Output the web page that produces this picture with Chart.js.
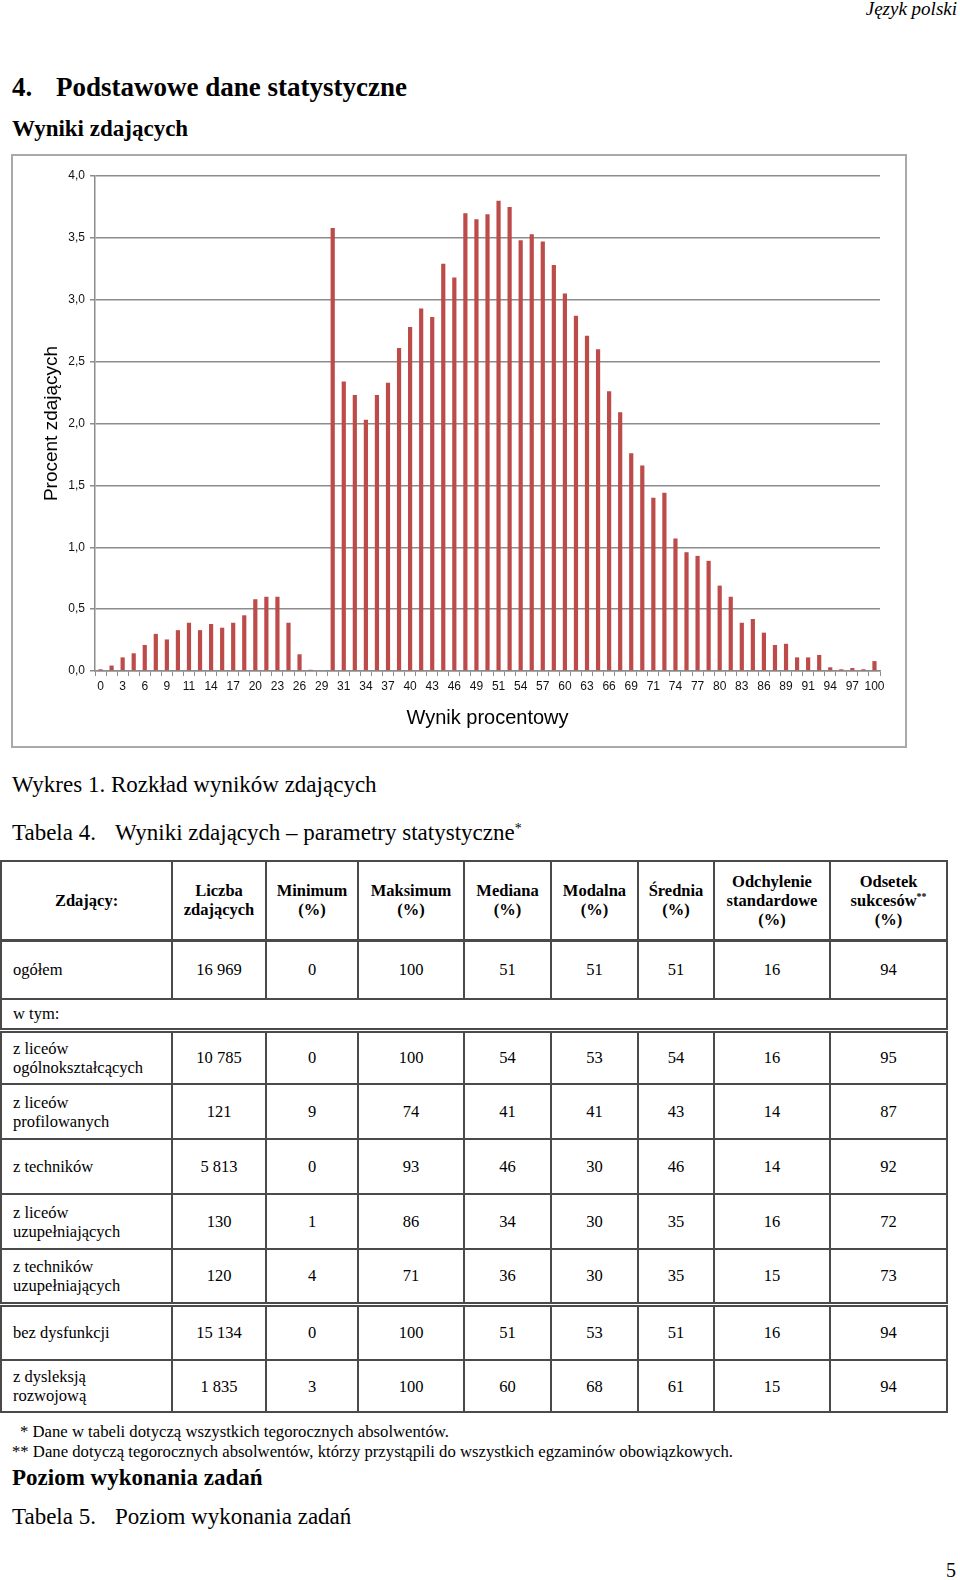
<!DOCTYPE html>
<html lang="pl">
<head>
<meta charset="utf-8">
<title>Wyniki zdających</title>
<script src="https://cdn.jsdelivr.net/npm/chart.js@4.4.0/dist/chart.umd.min.js"></script>
<style>
  html, body { margin: 0; padding: 0; background: #fff; }
  body { width: 960px; height: 1580px; position: relative; overflow: hidden;
         font-family: 'Liberation Serif', 'Times New Roman', serif; color: #000; }
  .abs { position: absolute; white-space: nowrap; }
  .naglowek { font-size: 19px; line-height: 20px; font-style: italic; right: 3px; top: -1px; }
  .h1 { left: 12px; top: 72px; font-size: 27px; line-height: 31px; font-weight: bold; }
  .h1 .nr { display: inline-block; width: 44px; }
  .h2 { left: 12px; font-size: 23px; line-height: 26px; font-weight: bold; }
  .podpis { left: 12px; font-size: 23px; line-height: 26px; }
  .podpis .nr { display: inline-block; width: 103px; }
  .przypis { font-size: 16.7px; line-height: 19px; }
  sup { font-size: 60%; vertical-align: top; position: relative; top: -4px; }
  #ramka { position: absolute; left: 11px; top: 154px; width: 896px; height: 594px;
           border: 2px solid #a9a9a9; box-sizing: border-box; }
  #wykres { position: absolute; left: 0; top: 0; }
  table { position: absolute; left: 0; top: 860px; width: 946px; border-collapse: collapse;
          table-layout: fixed; font-size: 16.5px; }
  td, th { border: 2px solid #4a4a4a; text-align: center; padding: 0; line-height: 19px; }
  th { font-weight: bold; }
  td.nazwa { text-align: left; padding-left: 11px; }
  tr.podwojna td { border-bottom: 5px double #4a4a4a; }
  tr.gruba th { border-bottom: 3px solid #4a4a4a; }
</style>
</head>
<body>
<div class="abs naglowek">Język polski</div>
<div class="abs h1"><span class="nr">4.</span>Podstawowe dane statystyczne</div>
<div class="abs h2" style="top:116px">Wyniki zdających</div>

<div id="ramka"><canvas id="wykres" width="892" height="590"></canvas></div>

<div class="abs podpis" style="top:772px">Wykres 1. Rozkład wyników zdających</div>
<div class="abs podpis" style="top:820px"><span class="nr">Tabela 4.</span>Wyniki zdających – parametry statystyczne<sup>*</sup></div>

<table id="tabela"></table>

<div class="abs przypis" style="left:20px; top:1422px">* Dane w tabeli dotyczą wszystkich tegorocznych absolwentów.</div>
<div class="abs przypis" style="left:12px; top:1442px">** Dane dotyczą tegorocznych absolwentów, którzy przystąpili do wszystkich egzaminów obowiązkowych.</div>
<div class="abs h2" style="top:1465px">Poziom wykonania zadań</div>
<div class="abs podpis" style="top:1504px"><span class="nr">Tabela 5.</span>Poziom wykonania zadań</div>
<div class="abs" style="left:946px; top:1558px; font-size:20px; line-height:24px">5</div>

<script>
// procent zdających dla kolejnych wyników (0..70 pkt, co 1 pkt)
const wyniki = [
    0.014, 0.044, 0.11, 0.143, 0.21, 0.30, 0.255, 0.33, 0.39, 0.33, 0.38,
    0.35, 0.39, 0.45, 0.58, 0.60, 0.60, 0.39, 0.135, 0.01, 0,
    3.58, 2.34, 2.23, 2.03, 2.23, 2.33, 2.61, 2.78, 2.93, 2.86,
    3.29, 3.18, 3.70, 3.65, 3.69, 3.80, 3.75, 3.48, 3.53, 3.47,
    3.28, 3.05, 2.87, 2.71, 2.60, 2.26, 2.09, 1.76, 1.66, 1.40,
    1.44, 1.07, 0.96, 0.93, 0.89, 0.69, 0.60, 0.39, 0.42, 0.31,
    0.21, 0.22, 0.11, 0.11, 0.13, 0.03, 0.014, 0.024, 0.014, 0.08
];
// podpisy osi X (co drugi słupek)
const etykietyX = ['0', '3', '6', '9', '11', '14', '17', '20', '23', '26', '29', '31',
    '34', '37', '40', '43', '46', '49', '51', '54', '57', '60', '63', '66',
    '69', '71', '74', '77', '80', '83', '86', '89', '91', '94', '97', '100'];
const ticksY = [0, 0.5, 1, 1.5, 2, 2.5, 3, 3.5, 4];

const kategorie = wyniki.map((_, i) => i % 2 === 0 ? etykietyX[i / 2] : '');

// tabela 4
const kolumny = ['Zdający:', 'Liczba<br>zdających', 'Minimum<br>(%)', 'Maksimum<br>(%)', 'Mediana<br>(%)',
    'Modalna<br>(%)', 'Średnia<br>(%)', 'Odchylenie<br>standardowe<br>(%)', 'Odsetek<br>sukcesów<sup>**</sup><br>(%)'];
const szerokosci = [171, 94, 92, 106, 87, 87, 76, 116, 117];
const wiersze = [
    ['ogółem', '16 969', '0', '100', '51', '51', '51', '16', '94'],
    ['z liceów<br>ogólnokształcących', '10 785', '0', '100', '54', '53', '54', '16', '95'],
    ['z liceów<br>profilowanych', '121', '9', '74', '41', '41', '43', '14', '87'],
    ['z techników', '5 813', '0', '93', '46', '30', '46', '14', '92'],
    ['z liceów<br>uzupełniających', '130', '1', '86', '34', '30', '35', '16', '72'],
    ['z techników<br>uzupełniających', '120', '4', '71', '36', '30', '35', '15', '73'],
    ['bez dysfunkcji', '15 134', '0', '100', '51', '53', '51', '16', '94'],
    ['z dysleksją<br>rozwojową', '1 835', '3', '100', '60', '68', '61', '15', '94']
];
const wysokosci = [59, 54, 55, 55, 55, 55, 56, 52];

const tabela = document.getElementById('tabela');
let html = '<colgroup>' + szerokosci.map(w => `<col style="width:${w}px">`).join('') + '</colgroup>';
html += '<tr class="gruba" style="height:79px">' + kolumny.map(k => `<th>${k}</th>`).join('') + '</tr>';
wiersze.forEach((w, i) => {
    const klasa = (i === 5) ? ' class="podwojna"' : '';
    html += `<tr${klasa} style="height:${wysokosci[i]}px">` +
        w.map((c, j) => `<td${j === 0 ? ' class="nazwa"' : ''}>${c}</td>`).join('') + '</tr>';
    if (i === 0) {
        html += '<tr class="podwojna" style="height:31px"><td class="nazwa" colspan="9">w tym:</td></tr>';
    }
});
tabela.innerHTML = html;

const czcionka = "'Liberation Sans', Arial, sans-serif";
const szary = '#8c8c8c';

new Chart(document.getElementById('wykres'), {
    type: 'bar',
    data: {
        labels: kategorie,
        datasets: [{
            data: wyniki,
            backgroundColor: '#bd4b49',
            barPercentage: 0.38,
            categoryPercentage: 1
        }]
    },
    options: {
        responsive: false,
        animation: false,
        layout: { padding: { top: 20, right: 25, left: 0, bottom: 0 } },
        plugins: {
            legend: { display: false },
            tooltip: { enabled: false }
        },
        scales: {
            x: {
                grid: { offset: true, drawOnChartArea: false, drawTicks: true, tickLength: 5, color: szary, lineWidth: 1 },
                border: { color: szary, width: 1.5 },
                ticks: { autoSkip: false, maxRotation: 0, padding: 3, color: '#111', font: { family: czcionka, size: 12 } },
                title: { display: true, text: 'Wynik procentowy', color: '#000',
                         font: { family: czcionka, size: 20 }, padding: { top: 0, bottom: 16 } },
                afterFit: s => { s.height = 75; }
            },
            y: {
                min: 0,
                max: 4,
                afterBuildTicks: s => { s.ticks = ticksY.map(v => ({ value: v })); },
                ticks: {
                    padding: 5, color: '#111', font: { family: czcionka, size: 12 },
                    callback: v => v.toFixed(1).replace('.', ',')
                },
                grid: { color: szary, lineWidth: 1.5, tickLength: 5 },
                border: { color: szary, width: 1.5 },
                title: { display: true, text: 'Procent zdających', color: '#000',
                         font: { family: czcionka, size: 19 }, padding: { top: 27, bottom: 0 } },
                afterFit: s => { s.width = 82; }
            }
        }
    }
});
</script>
</body>
</html>
